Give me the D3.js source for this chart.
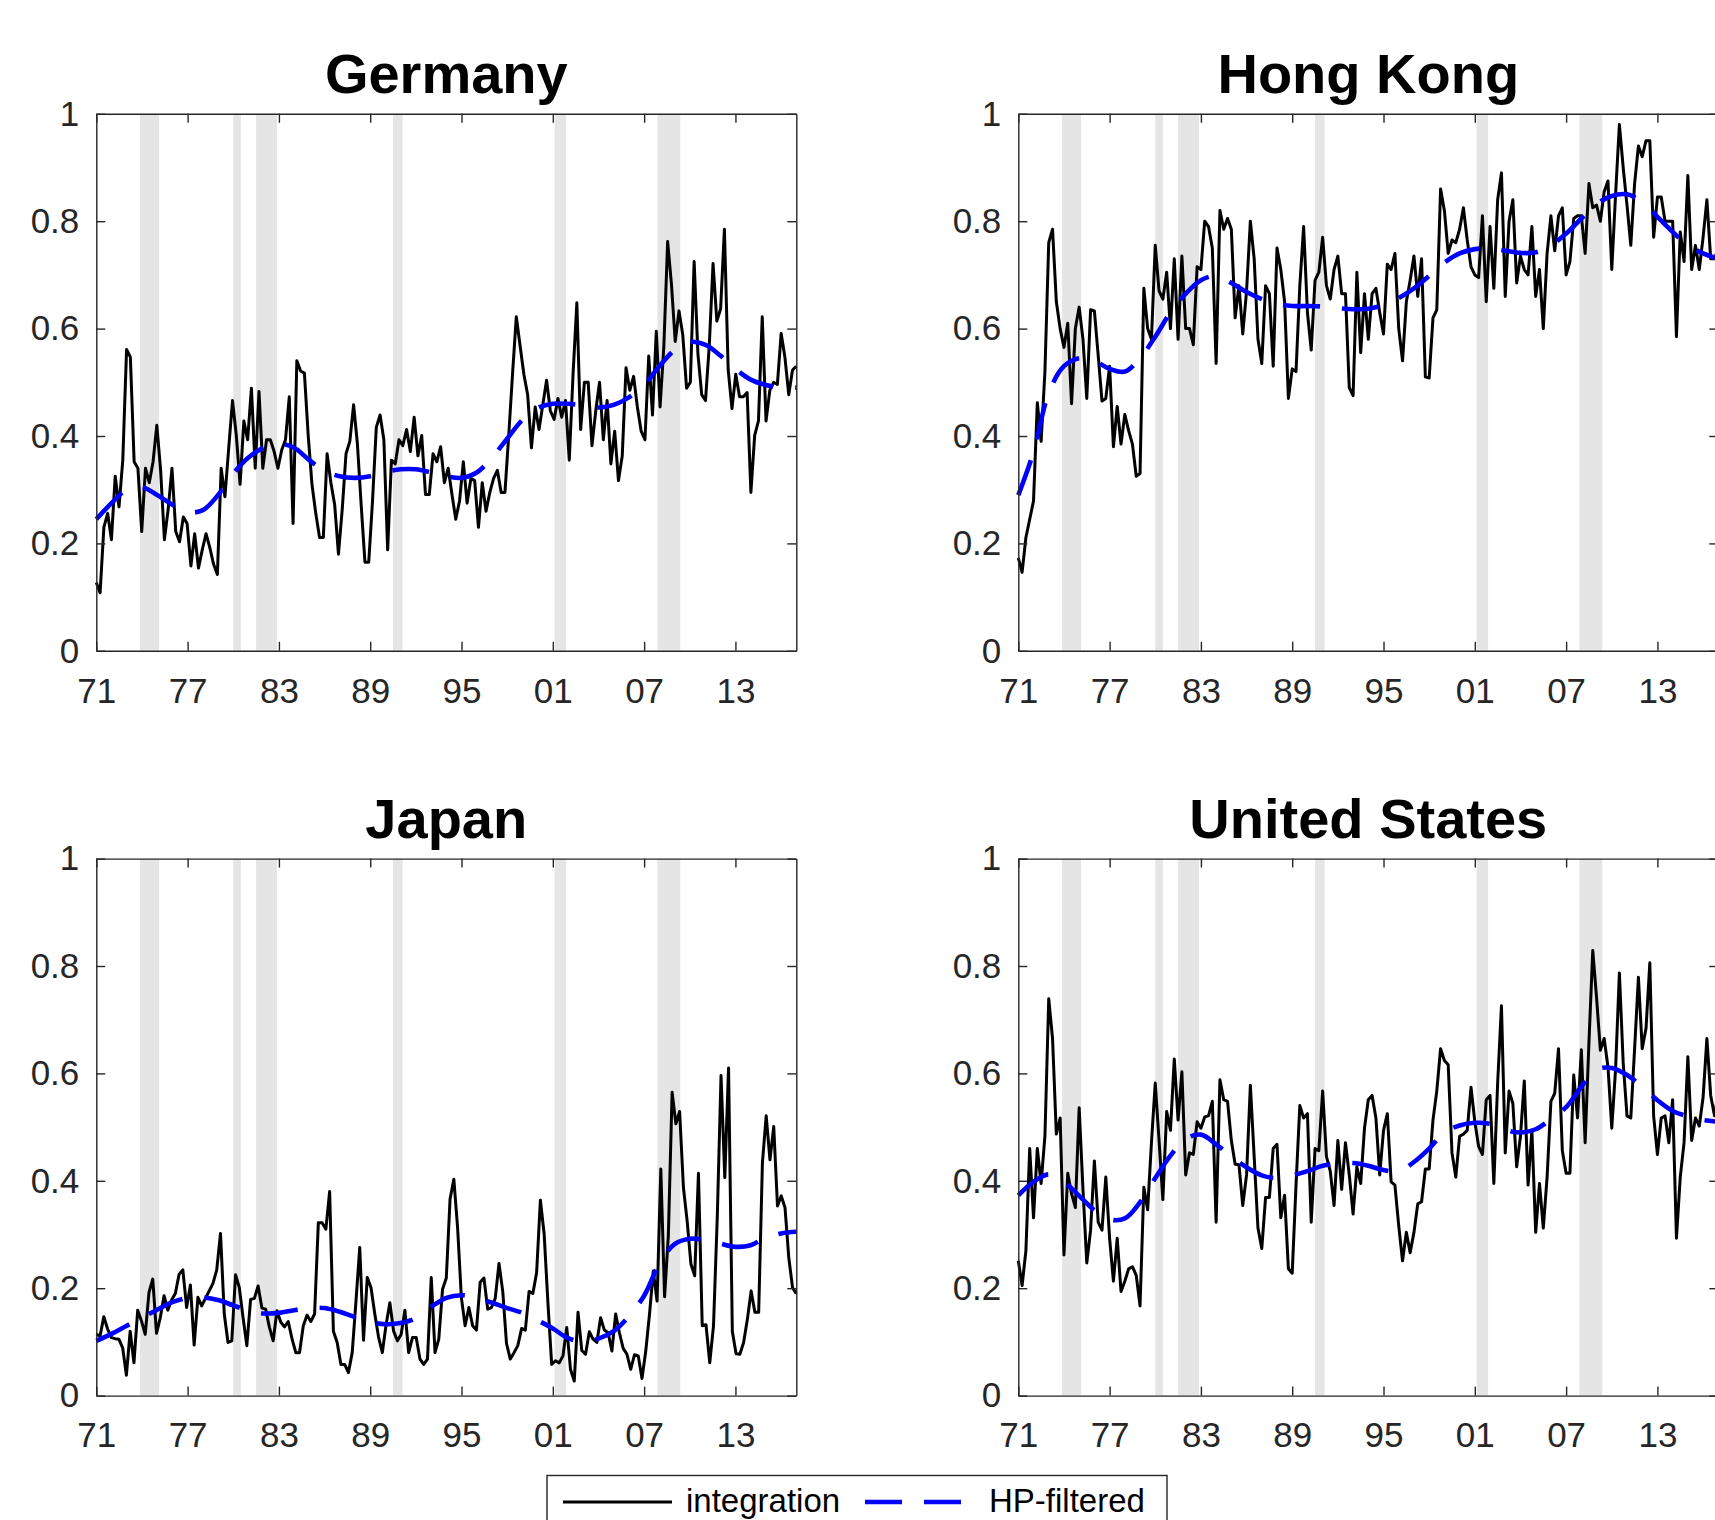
<!DOCTYPE html>
<html>
<head>
<meta charset="utf-8">
<script src="https://cdn.jsdelivr.net/npm/d3@7"></script>
<style>
  body { margin: 0; background: #fff; }
  text { font-family: "Liberation Sans", Arial, Helvetica, sans-serif; }
</style>
</head>
<body>
<svg id="chart"></svg>
<script>
// ---- data ----
const xTicks = [1971, 1977, 1983, 1989, 1995, 2001, 2007, 2013];
const xTickLabels = ["71", "77", "83", "89", "95", "01", "07", "13"];
const yTicks = [0, 0.2, 0.4, 0.6, 0.8, 1];
const yTickLabels = ["0", "0.2", "0.4", "0.6", "0.8", "1"];
const timeSpan = [1971, 2017];

// shaded recession periods (decimal years)
const recessions = [
  [1973.875, 1975.125], [1980.0, 1980.5], [1981.5, 1982.875],
  [1990.5, 1991.125], [2001.125, 2001.875], [2007.875, 2009.375]
];

const hpYears = d3.range(1971, 2018);

// quarterly integration measure, 1971 to 2016
const germany = [
  0.127,0.108,0.23,0.256,0.207,0.325,0.268,0.355,0.561,0.547,
  0.352,0.34,0.222,0.34,0.313,0.352,0.42,0.336,0.207,0.264,
  0.34,0.222,0.203,0.249,0.237,0.158,0.218,0.154,0.188,0.218,
  0.192,0.161,0.142,0.34,0.287,0.378,0.466,0.401,0.31,0.428,
  0.393,0.489,0.34,0.483,0.34,0.393,0.393,0.371,0.34,0.374,
  0.393,0.473,0.237,0.54,0.521,0.517,0.401,0.31,0.256,0.211,
  0.211,0.367,0.313,0.272,0.18,0.264,0.367,0.39,0.458,0.386,
  0.272,0.165,0.165,0.279,0.416,0.439,0.393,0.188,0.355,0.348,
  0.393,0.382,0.412,0.371,0.435,0.363,0.401,0.291,0.291,0.367,
  0.352,0.38,0.313,0.34,0.291,0.245,0.279,0.352,0.275,0.321,
  0.317,0.23,0.313,0.26,0.295,0.321,0.336,0.295,0.295,0.401,
  0.515,0.622,0.568,0.515,0.477,0.378,0.454,0.412,0.458,0.504,
  0.447,0.431,0.47,0.435,0.466,0.355,0.515,0.648,0.412,0.5,
  0.5,0.382,0.447,0.5,0.393,0.466,0.348,0.409,0.317,0.363,
  0.527,0.485,0.511,0.454,0.409,0.393,0.549,0.439,0.595,0.454,
  0.568,0.762,0.683,0.576,0.633,0.588,0.489,0.5,0.725,0.553,
  0.477,0.466,0.568,0.721,0.614,0.637,0.785,0.523,0.451,0.515,
  0.473,0.473,0.481,0.295,0.401,0.428,0.622,0.428,0.485,0.5,
  0.496,0.591,0.546,0.477,0.523,0.53
];
const germanyHP = [
  0.245,0.275,0.3,0.305,0.29,0.272,0.258,0.262,0.29,0.33,
  0.36,0.378,0.386,0.378,0.355,0.335,0.325,0.322,0.325,0.333,
  0.338,0.338,0.332,0.325,0.322,0.332,0.36,0.395,0.43,0.452,
  0.46,0.46,0.457,0.453,0.458,0.472,0.495,0.53,0.56,0.575,
  0.57,0.55,0.525,0.505,0.495,0.49,0.49
];

const hongKong = [
  0.173,0.146,0.211,0.245,0.279,0.462,0.39,0.52,0.76,0.785,
  0.65,0.6,0.565,0.61,0.46,0.6,0.64,0.58,0.47,0.635,
  0.633,0.55,0.465,0.47,0.53,0.38,0.455,0.385,0.44,0.41,
  0.385,0.325,0.33,0.675,0.6,0.58,0.755,0.67,0.655,0.705,
  0.6,0.73,0.58,0.735,0.6,0.6,0.57,0.715,0.71,0.8,
  0.79,0.75,0.535,0.82,0.785,0.805,0.785,0.62,0.68,0.59,
  0.67,0.8,0.73,0.58,0.535,0.68,0.665,0.53,0.75,0.71,
  0.65,0.47,0.525,0.52,0.68,0.79,0.63,0.56,0.69,0.705,
  0.77,0.68,0.655,0.71,0.735,0.665,0.665,0.49,0.475,0.705,
  0.555,0.665,0.58,0.665,0.675,0.63,0.59,0.72,0.71,0.74,
  0.6,0.54,0.65,0.69,0.735,0.66,0.73,0.51,0.508,0.62,
  0.635,0.86,0.82,0.74,0.765,0.76,0.785,0.825,0.765,0.715,
  0.7,0.695,0.81,0.65,0.79,0.675,0.84,0.89,0.66,0.8,
  0.84,0.685,0.735,0.71,0.7,0.79,0.66,0.71,0.6,0.74,
  0.81,0.745,0.81,0.825,0.7,0.725,0.805,0.81,0.81,0.74,
  0.87,0.825,0.83,0.8,0.855,0.875,0.71,0.85,0.98,0.9,
  0.83,0.755,0.87,0.94,0.92,0.95,0.95,0.77,0.845,0.845,
  0.8,0.8,0.8,0.585,0.78,0.725,0.885,0.71,0.755,0.71,
  0.77,0.84,0.73,0.73,0.75
];
const hongKongHP = [
  0.29,0.37,0.48,0.53,0.545,0.54,0.525,0.52,0.545,0.585,
  0.63,0.665,0.69,0.698,0.685,0.668,0.655,0.646,0.642,0.642,
  0.641,0.638,0.636,0.637,0.644,0.657,0.675,0.698,0.723,0.74,
  0.748,0.749,0.745,0.741,0.742,0.755,0.777,0.805,0.832,0.847,
  0.85,0.835,0.808,0.78,0.755,0.74,0.73
];

const japan = [
  0.114,0.111,0.147,0.124,0.108,0.106,0.105,0.089,0.038,0.12,
  0.061,0.159,0.139,0.114,0.192,0.217,0.116,0.145,0.186,0.159,
  0.178,0.19,0.226,0.234,0.164,0.206,0.094,0.183,0.167,0.181,
  0.195,0.209,0.234,0.302,0.152,0.099,0.102,0.225,0.201,0.145,
  0.093,0.179,0.181,0.204,0.163,0.161,0.127,0.102,0.158,0.137,
  0.128,0.138,0.106,0.08,0.08,0.13,0.15,0.138,0.152,0.322,
  0.322,0.31,0.38,0.12,0.099,0.058,0.058,0.043,0.08,0.176,
  0.276,0.103,0.22,0.201,0.152,0.109,0.08,0.132,0.173,0.12,
  0.102,0.114,0.159,0.08,0.108,0.108,0.068,0.058,0.068,0.22,
  0.08,0.105,0.198,0.219,0.366,0.403,0.313,0.183,0.13,0.164,
  0.13,0.122,0.211,0.219,0.161,0.164,0.181,0.246,0.194,0.097,
  0.068,0.08,0.093,0.125,0.122,0.194,0.19,0.229,0.364,0.301,
  0.173,0.058,0.065,0.061,0.074,0.127,0.049,0.027,0.155,0.084,
  0.077,0.119,0.105,0.099,0.145,0.122,0.117,0.083,0.152,0.117,
  0.088,0.077,0.049,0.076,0.074,0.032,0.083,0.152,0.232,0.176,
  0.422,0.184,0.298,0.565,0.506,0.529,0.388,0.325,0.245,0.223,
  0.414,0.13,0.132,0.061,0.13,0.332,0.596,0.406,0.61,0.12,
  0.078,0.077,0.099,0.142,0.195,0.155,0.155,0.434,0.521,0.439,
  0.501,0.353,0.372,0.35,0.257,0.201,0.19
];
const japanHP = [
  0.102,0.115,0.13,0.145,0.16,0.174,0.182,0.183,0.178,0.168,
  0.158,0.153,0.154,0.159,0.163,0.163,0.156,0.146,0.137,0.133,
  0.135,0.144,0.165,0.182,0.187,0.182,0.173,0.163,0.154,0.14,
  0.125,0.107,0.101,0.106,0.12,0.148,0.186,0.245,0.282,0.292,
  0.29,0.283,0.277,0.28,0.294,0.302,0.305
];

const unitedStates = [
  0.251,0.205,0.27,0.46,0.331,0.46,0.395,0.483,0.739,0.665,
  0.487,0.517,0.262,0.414,0.376,0.35,0.536,0.384,0.247,0.308,
  0.437,0.323,0.308,0.407,0.293,0.213,0.293,0.194,0.213,0.236,
  0.24,0.224,0.167,0.388,0.346,0.471,0.582,0.475,0.365,0.529,
  0.494,0.627,0.513,0.603,0.411,0.452,0.449,0.51,0.498,0.519,
  0.521,0.548,0.323,0.588,0.551,0.548,0.475,0.431,0.43,0.354,
  0.411,0.578,0.445,0.312,0.274,0.369,0.369,0.46,0.468,0.331,
  0.373,0.236,0.228,0.392,0.54,0.517,0.525,0.323,0.46,0.456,
  0.567,0.445,0.418,0.354,0.475,0.384,0.471,0.411,0.338,0.426,
  0.395,0.498,0.551,0.559,0.517,0.411,0.494,0.525,0.398,0.392,
  0.316,0.251,0.304,0.266,0.304,0.357,0.361,0.422,0.422,0.513,
  0.567,0.646,0.624,0.616,0.452,0.407,0.483,0.487,0.494,0.574,
  0.51,0.464,0.449,0.551,0.559,0.395,0.582,0.726,0.452,0.567,
  0.544,0.426,0.483,0.586,0.392,0.494,0.304,0.395,0.312,0.407,
  0.548,0.563,0.646,0.456,0.414,0.414,0.597,0.517,0.644,0.471,
  0.658,0.829,0.741,0.643,0.665,0.612,0.498,0.608,0.787,0.62,
  0.521,0.517,0.646,0.779,0.646,0.684,0.806,0.521,0.449,0.517,
  0.521,0.471,0.551,0.293,0.407,0.471,0.631,0.475,0.517,0.502,
  0.555,0.665,0.559,0.521,0.565
];
const unitedStatesHP = [
  0.373,0.398,0.412,0.398,0.372,0.345,0.328,0.33,0.36,0.405,
  0.447,0.478,0.486,0.468,0.445,0.425,0.41,0.405,0.41,0.418,
  0.428,0.432,0.433,0.428,0.42,0.418,0.435,0.46,0.49,0.503,
  0.508,0.506,0.495,0.49,0.496,0.515,0.537,0.575,0.607,0.61,
  0.597,0.575,0.55,0.53,0.52,0.513,0.51
];

const legendLabels = ["integration", "HP-filtered"];

// ---- layout ----
const W = 1715, H = 1520;
const plotW = 700, plotH = 537;
const axisColor = "#262626";
const dash = "37,22";

const panels = [
  { title: "Germany", series: germany, hp: germanyHP, left: 96.3, top: 113.8 },
  { title: "Hong Kong", series: hongKong, hp: hongKongHP, left: 1018.3, top: 113.8 },
  { title: "Japan", series: japan, hp: japanHP, left: 96.3, top: 858.6 },
  { title: "United States", series: unitedStates, hp: unitedStatesHP, left: 1018.3, top: 858.6 }
];

const svg = d3.select("#chart").attr("width", W).attr("height", H);
svg.append("rect").attr("width", W).attr("height", H).attr("fill", "#fff");

const x = d3.scaleLinear().domain(timeSpan).range([0, plotW]);
const y = d3.scaleLinear().domain([0, 1]).range([plotH, 0]);

panels.forEach((p) => {
  const g = svg.append("g").attr("transform", `translate(${p.left},${p.top})`);

  // recession shading
  g.selectAll("rect.rec")
    .data(recessions)
    .enter()
    .append("rect")
    .attr("class", "rec")
    .attr("x", (d) => x(d[0]))
    .attr("width", (d) => x(d[1]) - x(d[0]))
    .attr("y", 0)
    .attr("height", plotH)
    .attr("fill", "#e5e5e5");

  // quarterly series spread evenly over the time span
  const idx = d3.scaleLinear().domain([0, p.series.length - 1]).range(timeSpan);
  const line = d3.line()
    .x((d, i) => x(idx(i)))
    .y((d) => y(d));

  g.append("path")
    .datum(p.series)
    .attr("fill", "none")
    .attr("stroke", "#000")
    .attr("stroke-width", 3)
    .attr("stroke-linejoin", "round")
    .attr("d", line);

  // HP trend
  const hpLine = d3.line()
    .x((d, i) => x(hpYears[i]))
    .y((d) => y(d))
    .curve(d3.curveCatmullRom);

  g.append("path")
    .datum(p.hp)
    .attr("fill", "none")
    .attr("stroke", "#0000ff")
    .attr("stroke-width", 4.6)
    .attr("stroke-dasharray", dash)
    .attr("d", hpLine);

  // axes, ticks pointing inward, box all round
  const styleAxis = (sel) => {
    sel.select(".domain").attr("stroke", axisColor).attr("stroke-width", 1.4);
    sel.selectAll(".tick line").attr("stroke", axisColor).attr("stroke-width", 1.4);
    sel.selectAll(".tick text")
      .attr("fill", axisColor)
      .attr("font-size", 35)
      .attr("font-family", '"Liberation Sans", Arial, Helvetica, sans-serif');
  };

  g.append("g")
    .attr("transform", `translate(0,${plotH})`)
    .call(d3.axisBottom(x).tickValues(xTicks)
      .tickFormat((d, i) => xTickLabels[i])
      .tickSizeInner(-9).tickSizeOuter(0).tickPadding(27))
    .call(styleAxis);

  g.append("g")
    .call(d3.axisTop(x).tickValues(xTicks).tickFormat("")
      .tickSizeInner(-9).tickSizeOuter(0))
    .call(styleAxis);

  g.append("g")
    .call(d3.axisLeft(y).tickValues(yTicks)
      .tickFormat((d, i) => yTickLabels[i])
      .tickSizeInner(-9).tickSizeOuter(0).tickPadding(17))
    .call(styleAxis);

  g.append("g")
    .attr("transform", `translate(${plotW},0)`)
    .call(d3.axisRight(y).tickValues(yTicks).tickFormat("")
      .tickSizeInner(-9).tickSizeOuter(0))
    .call(styleAxis);

  g.append("text")
    .attr("x", plotW / 2)
    .attr("y", -21)
    .attr("text-anchor", "middle")
    .attr("font-size", 56)
    .attr("font-weight", "bold")
    .attr("fill", "#000")
    .text(p.title);
});

// ---- legend ----
const legend = svg.append("g");
legend.append("rect")
  .attr("x", 547).attr("y", 1475.5)
  .attr("width", 620).attr("height", 100)
  .attr("fill", "#fff")
  .attr("stroke", axisColor)
  .attr("stroke-width", 1.4);

legend.append("line")
  .attr("x1", 563).attr("x2", 672)
  .attr("y1", 1502).attr("y2", 1502)
  .attr("stroke", "#000").attr("stroke-width", 3);

legend.append("text")
  .attr("x", 686).attr("y", 1512)
  .attr("font-size", 33).attr("fill", "#000")
  .text(legendLabels[0]);

legend.append("line")
  .attr("x1", 865).attr("x2", 962)
  .attr("y1", 1502).attr("y2", 1502)
  .attr("stroke", "#0000ff").attr("stroke-width", 4.6)
  .attr("stroke-dasharray", dash);

legend.append("text")
  .attr("x", 989).attr("y", 1512)
  .attr("font-size", 33).attr("fill", "#000")
  .text(legendLabels[1]);
</script>
</body>
</html>
